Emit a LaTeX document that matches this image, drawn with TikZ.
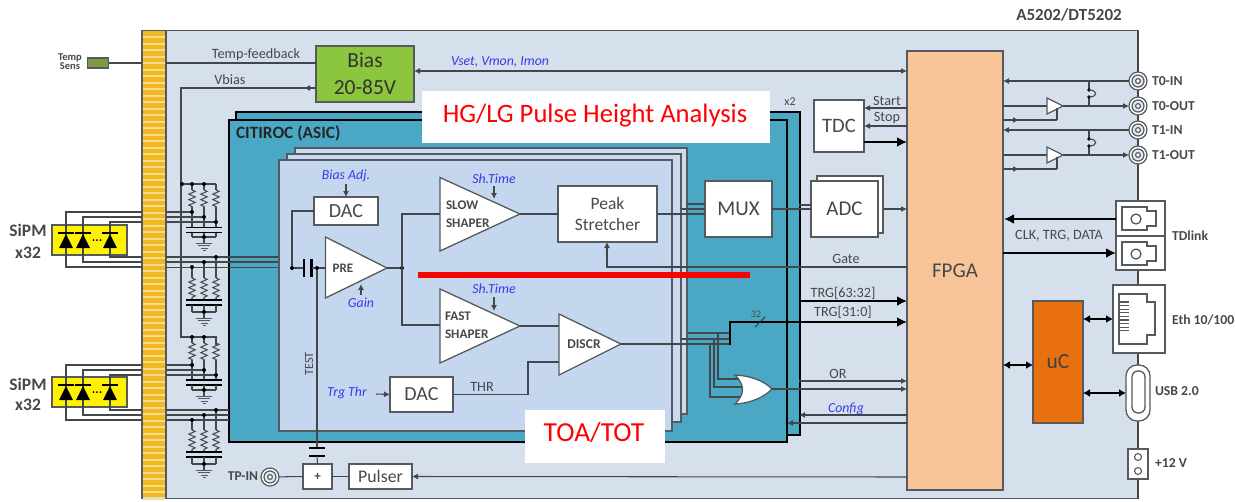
\documentclass[tikz,border=0pt]{standalone}
\usepackage{fontspec}
\setmainfont{Carlito}
\usetikzlibrary{arrows.meta,decorations.pathmorphing}
\definecolor{linec}{HTML}{555A5E}
\definecolor{txt}{HTML}{46494C}
\definecolor{board}{HTML}{D6E0EC}
\definecolor{teal}{HTML}{4AA8C4}
\definecolor{cardc}{HTML}{C5D6EF}
\definecolor{stripa}{HTML}{F2B822}
\definecolor{stripb}{HTML}{F8DC8E}
\definecolor{biasg}{HTML}{8CC63F}
\definecolor{fpgac}{HTML}{F8C59A}
\definecolor{ucc}{HTML}{E8700F}
\definecolor{sensc}{HTML}{7F9A42}
\definecolor{blueT}{HTML}{3A3AE8}
\definecolor{redT}{HTML}{FF0000}
\definecolor{wirek}{HTML}{43474A}
\tikzset{
  every node/.style={outer sep=0pt},
  wire/.style={draw=wirek,line width=1.05pt},
  arr/.style={wire,-{Latex[length=6pt,width=6pt]}},
  rarr/.style={wire,{Latex[length=6pt,width=6pt]}-},
  thick arrow/.style={draw=black,line width=2.6pt,-{Latex[length=10pt,width=10pt]}},
  double arrow/.style={draw=black,line width=2pt,{Latex[length=7pt,width=8pt]}-{Latex[length=7pt,width=8pt]}},
  box/.style={draw=linec,fill=white,line width=1.3pt,inner sep=0pt,align=center,anchor=north west,text=txt},
  lab/.style={text=txt,inner sep=0pt,font=\fontsize{14.2}{16}\selectfont},
  blab/.style={text=txt,inner sep=0pt,font=\fontsize{13.7}{15}\selectfont\bfseries,anchor=west},
  bluelab/.style={text=blueT,inner sep=0pt,font=\fontsize{13.8}{15}\selectfont\itshape},
  tri/.style={draw=linec,fill=white,line width=1.3pt,line join=miter},
  redlab/.style={text=redT,inner sep=0pt,font=\fontsize{26.6}{30}\selectfont},
  dotn/.style={circle,fill=black,inner sep=0pt,minimum size=4pt},
  resistor/.style={draw=wirek,line width=1pt,decorate,decoration={zigzag,segment length=5.5pt,amplitude=3.2pt}},
  bigsm/.style={text=txt,inner sep=0pt,font=\fontsize{17.5}{19}\selectfont\bfseries},
}
\newcommand{\rcnet}[8]{% z-start, z-end, cap, bus, start192, start204, start216, name
  \foreach \cx/\sy in {192/#5,204/#6,216/#7}{
    \draw[wire] (\cx,\sy) -- (\cx,#1);
    \draw[resistor] (\cx,#1) -- (\cx,#2);
    \draw[wire] (\cx,#2) -- (\cx,#3-2.5);
    \draw[draw=black,line width=1.5pt] (\cx-6,#3-2.5) -- (\cx+6,#3-2.5) (\cx-6,#3+2.5) -- (\cx+6,#3+2.5);
    \draw[wire] (\cx,#3+2.5) -- (\cx,#4);
  }
  \draw[wire] (192,#4) -- (216,#4);
  \node[dotn] (#8) at (204,#4) {};
  \draw[wire] (#8) -- (204,#4+6);
  \draw[draw=linec,line width=.8pt] (196,#4+6) -- (212,#4+6) (198,#4+8.5) -- (210,#4+8.5) (200.5,#4+11) -- (207.5,#4+11) (202.5,#4+13.5) -- (205.5,#4+13.5);
}
\newcommand{\diode}[2]{%
  \fill[black] (#1,#2-6) -- (#1-7,#2+8) -- (#1+7,#2+8) -- cycle;
  \draw[draw=black,line width=1.4pt] (#1-8,#2-7) -- (#1+8,#2-7);
}
\newcommand{\bnc}[3]{%
  \node[circle,draw=linec,fill=white,line width=1.2pt,minimum size=18pt,inner sep=0pt] (#1) at (#2,#3) {};
  \draw[draw=linec,fill=board!70!white,line width=1.2pt] (#2,#3) circle (6pt);
  \draw[draw=linec,fill=white,line width=1.2pt] (#2,#3) circle (2.4pt);
}
\begin{document}
\begin{tikzpicture}[x=1pt,y=-1pt]
\useasboundingbox (0,0) rectangle (1235,501);
% board
\node[draw=linec,fill=board,line width=1.5pt,anchor=north west,minimum width=996pt,minimum height=468pt,inner sep=0pt] (boardn) at (142,30.5) {};
% strip
\fill[stripa] (143,31) rectangle (166,497);
\foreach \s in {0,...,71}{ \fill[stripb] (143,36+6.5*\s) rectangle (165,38+6.5*\s); }
\draw[draw=linec,line width=1.3pt] (166,30.5) -- (166,498.5);
% title
\node[text=txt,inner sep=0pt,font=\fontsize{17}{19}\selectfont\bfseries] (title) at (1069,15) {A5202/DT5202};
% Temp sensor
\node[inner sep=0pt,text=txt,align=center,font=\fontsize{10.5}{9}\selectfont\bfseries] (tempsens) at (70,62) {Temp\\Sens};
\node[draw=linec,fill=sensc,line width=1.2pt,minimum width=21pt,minimum height=10pt,inner sep=0pt,anchor=north west] (sens) at (87.5,58) {};
\node[box,fill=biasg,minimum width=98pt,minimum height=56pt,font=\fontsize{21.5}{27}\selectfont,text=black!80] (bias) at (316,46) {Bias\\20-85V};
\coordinate (tfb) at (142,63);
\coordinate (tfc) at (166,63);
\draw[wire] (sens.east) -- (tfb);
\draw[wire] (tfc) -- (316,63);
\node[lab] (tfl) at (256,55) {Temp-feedback};
\coordinate (vb) at (181,88);
\draw[arr] (316,88) -- (304,88);
\draw[wire] (306,88) -- (vb) -- (181,337) -- (216,337) -- (216,345);
\draw[wire] (181,184) -- (216,184);
\node[lab] (vbl) at (230,80) {Vbias};
% SiPM boxes
\node[draw=linec,fill=yellow,line width=1.2pt,minimum width=75pt,minimum height=30pt,inner sep=0pt,anchor=north west] (sipma) at (52,225) {};
\node[draw=linec,fill=yellow,line width=1.2pt,minimum width=75pt,minimum height=30pt,inner sep=0pt,anchor=north west] (sipmb) at (52,377) {};
\node[bigsm] (sl1) at (28,230) {SiPM};
\node[bigsm] (sl2) at (28,253) {x32};
\node[bigsm] (sl3) at (28,384) {SiPM};
\node[bigsm] (sl4) at (28,405) {x32};
% SiPM wires
\draw[wire] (142,212) -- (66,212) -- (66,267) -- (142,267);
\draw[wire] (142,217) -- (83,217) -- (83,262) -- (142,262);
\draw[wire] (142,222) -- (110,222) -- (110,257) -- (142,257);
\draw[wire] (142,365) -- (66,365) -- (66,420) -- (142,420);
\draw[wire] (142,370) -- (83,370) -- (83,415) -- (142,415);
\draw[wire] (142,375) -- (110,375) -- (110,410) -- (142,410);
\foreach \dy in {240,392}{
  \diode{66}{\dy} \diode{83}{\dy} \diode{110}{\dy}
  \fill[black] (93.5,\dy) circle (1pt) (97,\dy) circle (1pt) (100.5,\dy) circle (1pt);
}
% ASIC
\node[draw=black,fill=teal,line width=2pt,minimum width=564pt,minimum height=323pt,inner sep=0pt,anchor=north west] (asicb) at (236,112) {};
\node[draw=black,fill=teal,line width=2pt,minimum width=558pt,minimum height=322pt,inner sep=0pt,anchor=north west] (asic) at (229,120) {};
\node[text=black!85,inner sep=0pt,anchor=west,font=\fontsize{17.3}{19}\selectfont\bfseries] (asicl) at (236,133) {CITIROC (ASIC)};
\node[lab,font=\fontsize{12}{14}\selectfont] (x2) at (790,102) {x2};
% RC nets
\rcnet{190}{207}{230}{237}{184}{184}{184}{rg1}
\rcnet{278}{298}{302.5}{312}{267}{262}{257}{rg2}
\rcnet{343}{360}{382.5}{390}{337}{337}{337}{rg3}
\rcnet{430}{450}{454.5}{464}{420}{415}{410}{rg4}
% horizontal rail wires right of strip
\draw[wire] (166,212) -- (192,212);
\draw[wire] (166,217) -- (204,217);
\draw[wire] (166,222) -- (216,222);
\draw[wire] (166,257) -- (279,257);
\draw[wire] (166,262) -- (279,262);
\draw[wire] (166,267.5) -- (292,267.5);
\draw[wire] (166,365) -- (192,365);
\draw[wire] (166,370) -- (204,370);
\draw[wire] (166,375) -- (216,375);
\draw[wire] (166,410) -- (229,410);
\draw[wire] (166,415) -- (229,415);
\draw[wire] (166,420) -- (229,420);
\foreach \dx/\dy in {182/184,192/184,204/184,192/212,204/217,216/222,216/257,204/262,192/267,192/337,204/337,192/365,204/370,216/375,216/410,204/415,192/420}{
  \fill[black] (\dx,\dy) circle (2pt);
}
% cards
\node[draw=linec,fill=cardc!85!white,line width=1.3pt,minimum width=392pt,minimum height=266pt,inner sep=0pt,anchor=north west] (card3) at (295,148) {};
\node[draw=linec,fill=cardc!92!white,line width=1.3pt,minimum width=394pt,minimum height=268pt,inner sep=0pt,anchor=north west] (card2) at (287,154) {};
\node[draw=linec,fill=cardc,line width=1.3pt,minimum width=393pt,minimum height=271pt,inner sep=0pt,anchor=north west] (card1) at (279,160) {};
% Front-end blocks
\node[box,minimum width=64pt,minimum height=28pt,font=\fontsize{20}{22}\selectfont] (dacA) at (314,197) {DAC};
\node[bluelab] (biasadj) at (346,176) {Bias Adj.};
\draw[arr] (biasadj.south) ++(0,2) -- (dacA.north);
\coordinate (pretip) at (387,268);
\coordinate (prein) at (325.5,268);
\draw[tri] (325.5,237) -- (pretip) -- (325.5,298) -- cycle;
\node[text=txt,inner sep=0pt,font=\fontsize{13}{15}\selectfont\bfseries] (prel) at (343,268) {PRE};
\node[dotn] (dA) at (292,268) {};
\node[dotn] (dB) at (317,268) {};
\draw[wire] (dacA.west) -| (dA);
\draw[wire] (dA) -- (304,268);
\draw[draw=black,line width=2.4pt] (304,259) -- (304,277) (311.5,259) -- (311.5,277);
\draw[wire] (311.5,268) -- (dB) -- (prein);
\node[bluelab] (gainl) at (361,303) {Gain};
\draw[arr] (361,295) -- (361,284);
% TEST
\node[box,minimum width=29pt,minimum height=25pt,font=\fontsize{13}{15}\selectfont\bfseries] (plus) at (303,464) {+};
\draw[wire] (dB) -- (317,448);
\draw[draw=black,line width=2.4pt] (309,448) -- (325,448) (309,456) -- (325,456);
\draw[wire] (317,456) -- (plus.north);
\node[lab,rotate=90,font=\fontsize{12.5}{14}\selectfont] (testl) at (309,364) {TEST};
\bnc{tpin}{270}{477}
\node[text=txt,inner sep=0pt,font=\fontsize{13.5}{15}\selectfont\bfseries] (tpl) at (243,476) {TP-IN};
\draw[wire] (tpin) -- (plus.west);
\node[box,minimum width=63pt,minimum height=25pt,font=\fontsize{17.8}{19}\selectfont] (pulser) at (349,464) {Pulser};
\draw[wire] (plus.east) -- (pulser.west);
% pre out
\coordinate (sw) at (402,268);
\draw[wire] (pretip) -- (sw);
\fill[black] (sw) circle (2pt);
% shapers
\coordinate (slowtip) at (520,214);
\coordinate (fasttip) at (520,326);
\draw[wire] (440,214) -- (402,214) -- (402,325) -- (440,325);
\draw[tri] (440,177.5) -- (slowtip) -- (440,251) -- cycle;
\draw[tri] (440,289) -- (fasttip) -- (440,363) -- cycle;
\node[text=txt,inner sep=0pt,anchor=west,align=left,font=\fontsize{13.2}{17.5}\selectfont\bfseries] (slowl) at (446,214) {SLOW\\SHAPER};
\node[text=txt,inner sep=0pt,anchor=west,align=left,font=\fontsize{13.2}{17.5}\selectfont\bfseries] (fastl) at (445,325) {FAST\\SHAPER};
\node[bluelab] (sh1) at (494,179) {Sh.Time};
\node[bluelab] (sh2) at (494,289) {Sh.Time};
\draw[arr] (494,186) -- (494,199);
\draw[arr] (494,297) -- (494,311);
\node[box,minimum width=99pt,minimum height=56pt,font=\fontsize{17.5}{20.5}\selectfont] (peak) at (558,186) {Peak\\Stretcher};
\draw[wire] (slowtip) -- (558,214);
\node[box,minimum width=67pt,minimum height=56pt,font=\fontsize{21}{23}\selectfont] (mux) at (705,181) {MUX};
\draw[wire] (657,214) -- (705,214);
\draw[wire] (681,209) -- (705,209);
\draw[wire] (687,204) -- (705,204);
\node[box,minimum width=66pt,minimum height=57pt] (adcb) at (817,176) {};
\node[box,minimum width=67pt,minimum height=56pt,font=\fontsize{21}{23}\selectfont] (adc) at (811,181) {ADC};
\draw[wire] (mux.east) -- (adc.west);
\draw[wire] (799,205) -- (811,205);
% FPGA
\node[box,fill=fpgac,minimum width=96pt,minimum height=439pt] (fpga) at (907,51) {};
\node[text=txt,inner sep=0pt,font=\fontsize{21}{23}\selectfont] (fpgal) at (955,271) {FPGA};
\draw[arr] (883,209) -- (907,209);
\draw[rarr] (pulser.east) -- (907,477);
% Vset
\draw[wire,{Latex[length=6pt,width=6pt]}-{Latex[length=6pt,width=6pt]}] (bias.east |- 0,71) -- (fpga.west |- 0,71);
\node[bluelab] (vsetl) at (500,62) {Vset, Vmon, Imon};
% TDC
\node[box,minimum width=50pt,minimum height=52pt,font=\fontsize{20.5}{23}\selectfont] (tdc) at (814,100) {TDC};
\draw[rarr] (864,108) -- (907,108);
\draw[rarr] (864,126) -- (907,126);
\draw[thick arrow] (864,142) -- (907,142);
\node[lab] (startl) at (887,101) {Start};
\node[lab] (stopl) at (887,118) {Stop};
% Gate
\draw[wire,{Latex[length=6pt,width=6pt]}-] (peak.south) ++(-0.5,0) |- (907,267);
\node[lab] (gatel) at (846,259) {Gate};
% DISCR + DAC
\coordinate (dtip) at (621,344);
\draw[wire] (fasttip) -- (559,326);
\node[box,minimum width=63pt,minimum height=35pt,font=\fontsize{20}{22}\selectfont] (dacB) at (390,377) {DAC};
\draw[wire] (dacB.east) -- (528,394.5) -- (528,362) -- (559,362);
\draw[tri] (559,314) -- (dtip) -- (559,375) -- cycle;
\node[text=txt,inner sep=0pt,font=\fontsize{13.5}{15}\selectfont\bfseries] (discrl) at (584,344) {DISCR};
\node[lab] (thrl) at (482,387) {THR};
\node[bluelab] (trgl) at (347,393) {Trg Thr};
\draw[arr] (376,394) -- (dacB.west);
% trigger lines
\draw[wire] (dtip) -- (730,344);
\draw[wire] (681,339) -- (730,339);
\draw[wire] (688,333) -- (730,333);
\draw[wire] (718,333) -- (718,379) -- (740,379);
\draw[wire] (714,339) -- (714,387) -- (742,387);
\draw[wire] (710,344) -- (710,397) -- (740,397);
% OR gate
\coordinate (ortip) at (772,389);
\draw[tri,fill=white] (735,375) .. controls (752,376) and (764,381) .. (ortip) .. controls (764,397) and (752,403) .. (735,404) .. controls (745,394) and (745,385) .. (735,375) -- cycle;
\draw[arr] (ortip) -- (907,389);
\draw[arr] (799,381) -- (907,381);
\node[lab] (orl) at (838,374) {OR};
\draw[rarr] (799,415) -- (907,415);
\draw[rarr] (787,423) -- (907,423);
\node[bluelab] (cfgl) at (846,409) {Config};
% TRG
\draw[thick arrow] (799,301) -- (907,301);
\draw[draw=black,line width=2.6pt,line join=miter] (730,345) -- (730,322) -- (780,322);
\draw[thick arrow] (780,322) -- (907,322);
\node[lab] (t1l) at (843,293) {TRG[63:32]};
\node[lab] (t2l) at (843,312) {TRG[31:0]};
\node[text=black!70,inner sep=0pt,font=\fontsize{10}{12}\selectfont] (n32) at (756,314) {32};
\draw[draw=black!80,line width=0.9pt] (755,327) -- (765,317);
% Right side connectors
\draw[wire] (1138,30.5) -- (1138,498.5);
\bnc{tzin}{1138}{81}
\bnc{tzout}{1138}{106}
\bnc{toin}{1138}{130}
\bnc{toout}{1138}{155}
\node[blab] (a) at (1152,81) {T0-IN};
\node[blab] (b) at (1152,106) {T0-OUT};
\node[blab] (c) at (1152,130) {T1-IN};
\node[blab] (d) at (1152,155) {T1-OUT};
\foreach \ya/\yb/\yc/\tn/\un/\pn in {81/106/120/tzin/tzout/ampa,130/155/169/toin/toout/ampb}{
  \draw[arr] (1129,\ya) -- (1003,\ya);
  \draw[wire] (1003,\yb) -- (1047,\yb);
  \draw[wire] (1062,\yb) -- (1100,\yb);
  \draw[arr] (1095,\yb) -- (1129,\yb);
  \draw[tri] (1047,\yb-8) -- (1063,\yb) -- (1047,\yb+8) -- cycle;
  \draw[wire] (1057,\yb+2) -- (1057,\yc);
  \draw[wire] (1057,\yc) -- (1003,\yc);
  \draw[arr] (1010,\yc) -- (1019,\yc);
  % jumper
  \draw[wire] (1089,\ya) -- (1089,\ya+9);
  \draw[wire] (1089,\yb) -- (1089,\yb-9);
  \fill[black] (1089,\ya+9) circle (1.8pt) (1089,\yb-9) circle (1.8pt);
  \draw[wire] (1089,\ya+9) .. controls (1098,\ya+9) and (1098,\yb-9) .. (1089,\yb-9);
}
% TDlink
\node[box,minimum width=49pt,minimum height=35pt] (tda) at (1116,201) {};
\node[box,minimum width=49pt,minimum height=34pt] (tdb) at (1116,236) {};
\foreach \ty in {207,242}{
  \draw[draw=linec,line width=1.3pt] (1122,\ty) -- (1147,\ty) -- (1147,\ty+4) -- (1156,\ty+4) -- (1156,\ty+19) -- (1147,\ty+19) -- (1147,\ty+23) -- (1122,\ty+23) -- cycle;
  \draw[draw=linec,line width=1.3pt] (1136,\ty+12) circle (5pt);
}
\draw[thick arrow] (tda.west |- 0,219) -- (1004,219);
\draw[thick arrow] (1003,253) -- (tdb.west |- 0,253);
\node[lab] (clkl) at (1059,236) {CLK, TRG, DATA};
\node[blab] (tdl) at (1172,236) {TDlink};
% Eth
\node[box,minimum width=52pt,minimum height=68pt] (eth) at (1113,285) {};
\draw[draw=linec,line width=1.3pt] (1119,294) -- (1147,294) -- (1147,302) -- (1155,302) -- (1155,335) -- (1147,335) -- (1147,344) -- (1119,344) -- cycle;
\foreach \s in {0,...,8}{ \draw[draw=linec,line width=1.1pt] (1120,302+3.6*\s) -- (1129,302+3.6*\s); }
\node[blab] (ethl) at (1172,320) {Eth 10/100};
% uC
\node[box,fill=ucc,minimum width=50pt,minimum height=122pt,font=\fontsize{21.5}{23}\selectfont,text=black!75] (uc) at (1033,301) {uC};
\draw[double arrow] (uc.east |- 0,319) -- (eth.west |- 0,319);
\draw[double arrow] (fpga.east |- 0,365) -- (uc.west |- 0,365);
% USB
\node[draw=linec,fill=white,line width=1.3pt,rounded corners=11pt,minimum width=24pt,minimum height=56pt,inner sep=0pt,anchor=north west] (usb) at (1126,365) {};
\draw[draw=linec,line width=1.3pt,rounded corners=6pt] (1132,371) rectangle (1145,413);
\draw[double arrow] (uc.east |- 0,393) -- (usb.west |- 0,393);
\node[blab] (usbl) at (1155,391) {USB 2.0};
% 12V
\node[box,minimum width=20pt,minimum height=30pt] (pwr) at (1128,449) {};
\draw[draw=linec,line width=1.1pt] (1138,457) circle (3.5pt) (1138,471) circle (3.5pt);
\node[blab] (pwrl) at (1155,463) {+12 V};
% overlays
\node[fill=white,minimum width=348pt,minimum height=52pt,inner sep=0pt,anchor=north west] (hgbox) at (422,91) {};
\node[redlab] (hgl) at (595,116) {HG/LG Pulse Height Analysis};
\node[fill=white,minimum width=140pt,minimum height=53pt,inner sep=0pt,anchor=north west] (toabox) at (525,410) {};
\node[redlab,font=\fontsize{27.5}{30}\selectfont] (toal) at (594,433) {TOA/TOT};
\coordinate (rlA) at (418,275);
\coordinate (rlB) at (750,275);
\draw[draw=redT,line width=5.5pt] (rlA) -- (rlB);
\end{tikzpicture}
\end{document}
